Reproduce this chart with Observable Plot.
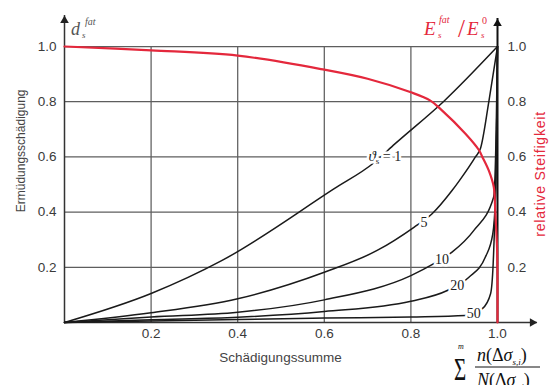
<!DOCTYPE html>
<html><head><meta charset="utf-8">
<script src="https://cdn.jsdelivr.net/npm/d3@7"></script>
<script src="https://cdn.jsdelivr.net/npm/@observablehq/plot@0.6"></script>
<style>html,body{margin:0;padding:0;background:#fff;} svg{display:block}</style>
</head><body><div id="chart"></div>
<script>
// ---- data ----
const xTicks = [0.2, 0.4, 0.6, 0.8, 1.0];
const yTicks = [0.2, 0.4, 0.6, 0.8, 1.0];
const thetaValues = [1, 5, 10, 20, 50];

const sumTheta1  = [0, 0.2, 0.364, 0.622, 0.714, 0.763, 0.875, 1];
const dTheta1    = [0, 0.105, 0.225, 0.484, 0.578, 0.647, 0.8, 1];
const sumTheta5  = [0, 0.2, 0.4, 0.6, 0.722, 0.807, 0.849, 0.895, 0.912, 0.949, 0.961, 0.98, 1];
const dTheta5    = [0, 0.035, 0.086, 0.182, 0.261, 0.345, 0.394, 0.478, 0.514, 0.6, 0.632, 0.8, 1];
const sumTheta10 = [0, 0.2, 0.4, 0.6, 0.8, 0.853, 0.895, 0.945, 0.991, 0.997, 1];
const dTheta10   = [0, 0.02, 0.037, 0.082, 0.17, 0.213, 0.255, 0.333, 0.454, 0.7, 1];
const sumTheta20 = [0, 0.2, 0.4, 0.6, 0.8, 0.884, 0.934, 0.972, 0.989, 0.995, 0.998, 1];
const dTheta20   = [0, 0.01, 0.019, 0.04, 0.077, 0.116, 0.164, 0.237, 0.32, 0.442, 0.7, 1];
const sumTheta50 = [0, 0.2, 0.4, 0.6, 0.8, 0.926, 0.965, 0.984, 0.99, 0.994, 0.998, 1];
const dTheta50   = [0, 0.005, 0.011, 0.016, 0.02, 0.025, 0.05, 0.104, 0.213, 0.394, 0.7, 1];

const sumStiffness = [0, 0.2, 0.4, 0.6, 0.7, 0.8, 0.845, 0.868, 0.926, 0.957, 0.965, 0.98, 0.9915, 0.995, 0.999, 1, 1];
const stiffness    = [1, 0.986, 0.967, 0.916, 0.883, 0.834, 0.804, 0.774, 0.684, 0.625, 0.6, 0.55, 0.49, 0.395, 0.27, 0.15, 0];

const curveLabels = ["ϑ", "5", "10", "20", "50"];
const labelSum = [0.741, 0.83, 0.872, 0.907, 0.945];
const labelD   = [0.60, 0.363, 0.228, 0.134, 0.031];

const axisTopLeft = 1.112, axisTopRight = 1.101, axisEndX = 1.092;

// ---- build tables ----
const curveSums = [sumTheta1, sumTheta5, sumTheta10, sumTheta20, sumTheta50];
const curveDs = [dTheta1, dTheta5, dTheta10, dTheta20, dTheta50];
const damage = thetaValues.flatMap((t, k) => curveSums[k].map((x, i) => ({theta: t, x, y: curveDs[k][i]})));
const stiff = sumStiffness.map((x, i) => ({x, y: stiffness[i]}));
const numLabels = thetaValues.slice(1).map((t, k) => ({text: curveLabels[k + 1], x: labelSum[k + 1], y: labelD[k + 1]}));

const RED = "#e4283c";
const GRID = "#5e5e5e";
const SANS = "'Liberation Sans', Arial, sans-serif";
const SERIF = "'Liberation Serif', 'Times New Roman', serif";

const chart = Plot.plot({
  width: 549, height: 385,
  marginLeft: 64, marginRight: 52, marginTop: 46, marginBottom: 63,
  x: {domain: [0, 1]},
  y: {domain: [0, 1]},
  style: {fontFamily: SANS, fontSize: "13.5px", background: "#fff", overflow: "visible"},
  marks: [
    Plot.ruleX(xTicks.slice(0, -1), {stroke: GRID, strokeWidth: 1.25}),
    Plot.ruleY(yTicks, {stroke: GRID, strokeWidth: 1.25}),
    Plot.axisX(xTicks, {tickSize: 0, tickPadding: 6, tickFormat: d3.format(".1f"), label: null, fill: "#3a3a3a", fontSize: 13.5}),
    Plot.axisY(yTicks, {anchor: "left", tickSize: 0, tickPadding: 8, tickFormat: d3.format(".1f"), label: null, fill: "#3a3a3a", fontSize: 13.5}),
    Plot.axisY(yTicks, {anchor: "right", tickSize: 0, tickPadding: 10, tickFormat: d3.format(".1f"), label: null, fill: "#3a3a3a", fontSize: 13.5}),
    // axes lines
    Plot.ruleX([{x: 0, y1: 0, y2: axisTopLeft}], {x: "x", y1: "y1", y2: "y2", stroke: "#333", strokeWidth: 1.5}),
    Plot.ruleX([{x: 1, y1: 0, y2: axisTopRight}], {x: "x", y1: "y1", y2: "y2", stroke: "#111", strokeWidth: 2}),
    Plot.ruleY([{y: 0, x1: 0, x2: axisEndX}], {y: "y", x1: "x1", x2: "x2", stroke: "#333", strokeWidth: 1.5}),
    Plot.dot([{x: 0, y: axisTopLeft}], {x: "x", y: "y", symbol: "triangle", r: 3.2, fill: "#222", stroke: "none", dy: 5}),
    Plot.dot([{x: 1, y: axisTopRight}], {x: "x", y: "y", symbol: "triangle", r: 3.2, fill: "#111", stroke: "none", dy: 5}),
    Plot.dot([{x: axisEndX, y: 0}], {x: "x", y: "y", symbol: "triangle", r: 3.2, fill: "#222", stroke: "none", rotate: 90, dx: -5}),
    // curves
    Plot.line(damage, {x: "x", y: "y", z: "theta", stroke: "#1a1a1a", strokeWidth: 1.5, curve: "monotone-x"}),
    Plot.line(stiff, {x: "x", y: "y", stroke: RED, strokeWidth: 2.2, curve: "catmull-rom"}),
    Plot.text(numLabels, {x: "x", y: "y", text: "text", fontFamily: SERIF, fontSize: 14, fill: "#222", stroke: "white", strokeWidth: 5})
  ]
});

document.getElementById("chart").appendChild(chart);

// ---- text overlays positioned with Plot's scales ----
const svg = d3.select(chart);
const sx = chart.scale("x"), sy = chart.scale("y");
const px = v => sx.apply(v), py = v => sy.apply(v);

// ϑs = 1 label with halo
{
  const t = svg.append("text")
    .attr("x", px(labelSum[0])).attr("y", py(labelD[0]) + 5)
    .attr("text-anchor", "middle")
    .attr("font-family", SERIF).attr("font-size", 14).attr("fill", "#222")
    .attr("stroke", "white").attr("stroke-width", 5).attr("paint-order", "stroke");
  t.append("tspan").attr("font-style", "italic").attr("font-size", 15).text(curveLabels[0]);
  t.append("tspan").attr("font-size", 9).attr("dy", 3).text("s");
  t.append("tspan").attr("dy", -3).text(" = " + thetaValues[0]);
}

// axis titles
svg.append("text")
  .attr("x", px(0.5)).attr("y", 362)
  .attr("text-anchor", "middle").attr("font-family", SANS).attr("font-size", 13.5).attr("fill", "#444")
  .text("Schädigungssumme");
svg.append("text")
  .attr("transform", `translate(25,${py(0.62)}) rotate(-90)`)
  .attr("text-anchor", "middle").attr("font-family", SANS).attr("font-size", 12).attr("fill", "#444")
  .text("Ermüdungsschädigung");
svg.append("text")
  .attr("transform", `translate(545,${py(0.535)}) rotate(-90)`)
  .attr("text-anchor", "middle").attr("font-family", SANS).attr("font-size", 14).attr("fill", RED)
  .attr("textLength", 125).attr("lengthAdjust", "spacing")
  .text("relative Steifigkeit");

// d_s^fat
{
  const g = svg.append("g").attr("font-family", SERIF).attr("font-style", "italic").attr("fill", "#555").attr("text-anchor", "start");
  g.append("text").attr("x", 71).attr("y", 35).attr("font-size", 18).text("d");
  g.append("text").attr("x", 85).attr("y", 25).attr("font-size", 10).text("fat");
  g.append("text").attr("x", 82).attr("y", 38).attr("font-size", 9).text("s");
}
// E_s^fat / E_s^0
{
  const g = svg.append("g").attr("font-family", SERIF).attr("fill", RED).attr("text-anchor", "start");
  g.append("text").attr("x", 424).attr("y", 35).attr("font-size", 19).attr("font-style", "italic").text("E");
  g.append("text").attr("x", 439).attr("y", 23).attr("font-size", 10).attr("font-style", "italic").text("fat");
  g.append("text").attr("x", 438).attr("y", 38).attr("font-size", 9).attr("font-style", "italic").text("s");
  g.append("text").attr("x", 458).attr("y", 37).attr("font-size", 25).text("/");
  g.append("text").attr("x", 467).attr("y", 35).attr("font-size", 19).attr("font-style", "italic").text("E");
  g.append("text").attr("x", 482).attr("y", 24).attr("font-size", 10).text("0");
  g.append("text").attr("x", 481).attr("y", 38).attr("font-size", 9).attr("font-style", "italic").text("s");
}
// Sum formula
{
  const g = svg.append("g").attr("font-family", SERIF).attr("fill", "#111").attr("text-anchor", "start");
  g.append("text").attr("transform", "translate(454,380) scale(0.7,1.05)").attr("font-size", 30).text("Σ");
  g.append("text").attr("x", 458).attr("y", 349).attr("font-size", 8).attr("font-style", "italic").text("m");
  g.append("text").attr("x", 454).attr("y", 391).attr("font-size", 8).text("i=1");
  const num = g.append("text").attr("x", 477).attr("y", 361).attr("font-size", 18);
  num.append("tspan").attr("font-style", "italic").text("n");
  num.append("tspan").text("(Δ");
  num.append("tspan").attr("font-style", "italic").text("σ");
  num.append("tspan").attr("font-size", 9).attr("dy", 4).attr("font-style", "italic").text("s,i");
  num.append("tspan").attr("dy", -4).text(")");
  g.append("line").attr("x1", 475).attr("x2", 540).attr("y1", 367).attr("y2", 367).attr("stroke", "#111").attr("stroke-width", 1);
  const den = g.append("text").attr("x", 477).attr("y", 386).attr("font-size", 18);
  den.append("tspan").attr("font-style", "italic").text("N");
  den.append("tspan").text("(Δ");
  den.append("tspan").attr("font-style", "italic").text("σ");
  den.append("tspan").attr("font-size", 9).attr("dy", 4).attr("font-style", "italic").text("s,i");
  den.append("tspan").attr("dy", -4).text(")");
}
</script>
</body></html>
